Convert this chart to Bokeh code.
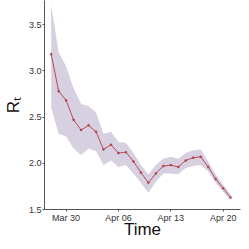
import datetime as dt
from bokeh.plotting import figure
from bokeh.models import (ColumnDataSource, FixedTicker, DatetimeTickFormatter, Range1d,
                          PrintfTickFormatter)
from bokeh.embed import file_html
from bokeh.resources import INLINE

start = dt.datetime(2020, 3, 28)
dates = [start + dt.timedelta(days=i) for i in range(25)]
rt_mean = [3.18, 2.78, 2.68, 2.47, 2.36, 2.41, 2.34, 2.15, 2.20, 2.11, 2.12, 2.02, 1.90,
           1.79, 1.89, 1.97, 1.98, 1.96, 2.03, 2.06, 2.07, 1.96, 1.83, 1.73, 1.63]
rt_upper = [3.71, 3.20, 3.05, 2.81, 2.64, 2.62, 2.55, 2.32, 2.34, 2.23, 2.22, 2.11, 1.98,
            1.88, 1.98, 2.05, 2.07, 2.05, 2.11, 2.14, 2.15, 2.02, 1.88, 1.77, 1.66]
rt_lower = [2.60, 2.32, 2.29, 2.16, 2.09, 2.16, 2.13, 1.98, 2.03, 1.96, 1.98, 1.89, 1.79,
            1.68, 1.80, 1.89, 1.89, 1.88, 1.95, 1.97, 1.98, 1.91, 1.79, 1.69, 1.60]
tick_dates = [dt.datetime(2020, 3, 30), dt.datetime(2020, 4, 6),
              dt.datetime(2020, 4, 13), dt.datetime(2020, 4, 20)]
y_ticks = [1.5, 2.0, 2.5, 3.0, 3.5]

src = ColumnDataSource(dict(date=dates, mean=rt_mean, upper=rt_upper, lower=rt_lower))

x0 = dt.datetime(2020, 3, 27, 2, 38)
x1 = dt.datetime(2020, 4, 22, 7, 40)
p = figure(width=241, height=241, output_backend="svg", toolbar_location=None,
           x_axis_type="datetime",
           x_range=Range1d(x0, x1),
           y_range=Range1d(1.5, 3.76),
           min_border_left=29, min_border_right=1, min_border_top=0, min_border_bottom=28)
p.outline_line_color = None
p.xgrid.visible = False
p.ygrid.visible = False

p.varea(x="date", y1="lower", y2="upper", source=src, fill_color="#d7d0e0", fill_alpha=1.0)
p.line(x="date", y="mean", source=src, line_color="#b23a48", line_width=0.9)
p.scatter(x="date", y="mean", source=src, size=2, fill_color="#b23a48", line_color="#b23a48",
          line_width=0.5)

ms = [(d - dt.datetime(1970, 1, 1)).total_seconds() * 1000 for d in tick_dates]
p.xaxis.ticker = FixedTicker(ticks=ms)
p.xaxis.formatter = DatetimeTickFormatter(days="%b %d", months="%b %d")
p.yaxis.ticker = FixedTicker(ticks=y_ticks)
p.yaxis.formatter = PrintfTickFormatter(format="%.1f")

for ax in (p.xaxis[0], p.yaxis[0]):
    ax.axis_line_color = "#555555"
    ax.major_tick_line_color = "#555555"
    ax.major_tick_out = 2
    ax.major_tick_in = 0
    ax.minor_tick_line_color = None
    ax.major_label_text_font = "Liberation Sans"
    ax.major_label_text_font_size = "9px"
    ax.major_label_text_color = "#333333"
    ax.axis_label_text_font = "Liberation Sans"
    ax.axis_label_text_font_style = "normal"
    ax.axis_label_text_font_size = "17px"
    ax.axis_label_text_color = "#111111"
    ax.major_label_standoff = 1
    ax.axis_label_standoff = 0

p.xaxis.axis_label = "Time"
p.xaxis.axis_label_standoff = -6
p.yaxis.axis_label = "Rₜ"
p.yaxis.axis_label_standoff = 3

open("out.html", "w").write(file_html(p, INLINE))
